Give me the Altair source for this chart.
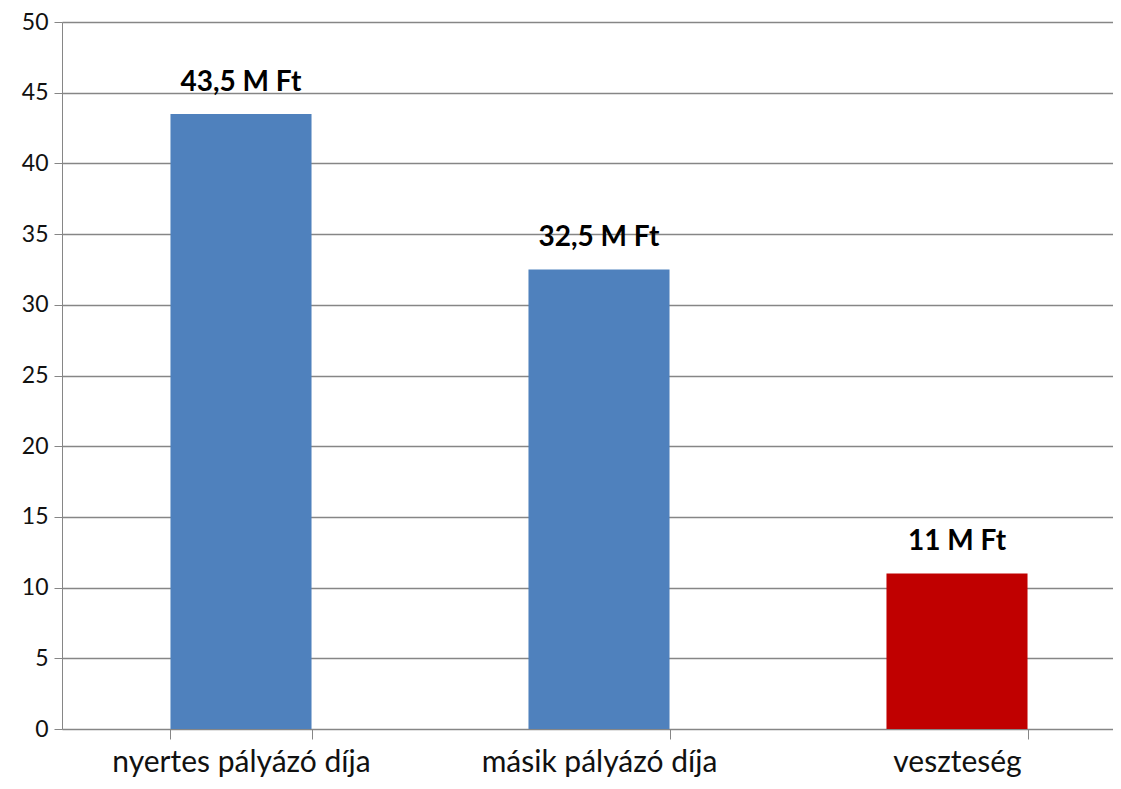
import altair as alt
import pandas as pd

categories = ["nyertes pályázó díja", "másik pályázó díja", "veszteség"]
values = [43.5, 32.5, 11]
labels = ["43,5 M Ft", "32,5 M Ft", "11 M Ft"]
colors = ["#4F81BD", "#4F81BD", "#C00000"]

df = pd.DataFrame({"cat": categories, "val": values, "lab": labels, "col": colors})

FONT = "Lato"

x = alt.X("cat:N", sort=categories, title=None,
          scale=alt.Scale(paddingInner=0.606, paddingOuter=0.303, range=[0, 1074]),
          axis=alt.Axis(labelAngle=0, labelFontSize=30, labelFont=FONT, labelColor="#111111",
                        labelPadding=32, tickBand="extent", tickSize=10, tickColor="#868686",
                        domainColor="#868686", grid=False, labelBaseline="alphabetic",
                        labelLimit=0))

bars = alt.Chart(df).mark_bar().encode(
    x=x,
    y=alt.Y("val:Q", title=None, scale=alt.Scale(domain=[0, 50]),
            axis=alt.Axis(values=list(range(0, 51, 5)), labelFontSize=23, labelFont=FONT,
                          labelColor="#111111", tickSize=8, tickColor="#868686",
                          domainColor="#868686", gridColor="#868686", gridWidth=1.5,
                          labelPadding=6)),
    color=alt.Color("col:N", scale=None),
)

text = alt.Chart(df).mark_text(baseline="alphabetic", dy=-23, fontSize=28, fontWeight="bold",
                               font=FONT, color="#000000").encode(
    x=alt.X("cat:N", sort=categories),
    y="val:Q",
    text="lab:N",
)

chart = (bars + text).properties(
    width=1051, height=707,
    autosize=alt.AutoSizeParams(type="none"),
    padding={"left": 54, "top": 14, "right": 0, "bottom": 50},
    background="#ffffff",
).configure_view(stroke=None)

chart.save("out.html", embed_options={"renderer": "svg", "actions": False})
